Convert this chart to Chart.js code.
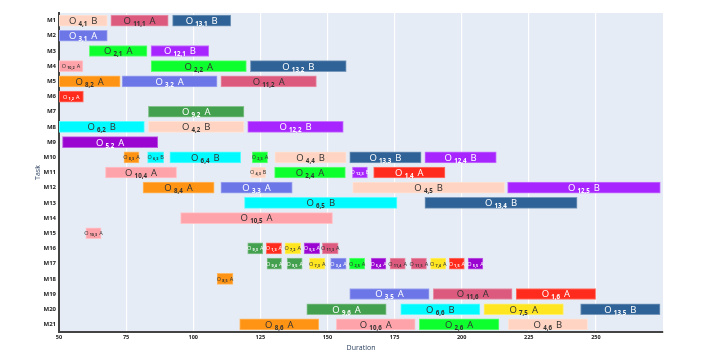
<!DOCTYPE html>
<html>
<head>
<meta charset="utf-8">
<script src="https://cdn.jsdelivr.net/npm/chart.js@4.4.1/dist/chart.umd.min.js"></script>
<style>
  html, body { margin: 0; padding: 0; background: #fff; }
  #wrap { width: 704px; height: 361px; }
</style>
</head>
<body>
<div id="wrap"><canvas id="gantt" width="704" height="361"></canvas></div>
<script>
// machines on the y axis, top to bottom
const machines = ['M1','M2','M3','M4','M5','M6','M7','M8','M9','M10','M11','M12','M13','M14','M15','M16','M17','M18','M19','M20','M21']
const xTicks = [50, 75, 100, 125, 150, 175, 200, 225, 250]

// one entry per operation: machine, start, end, job, op index
const opMachine = ['M1','M1','M1', 'M2', 'M3','M3', 'M4','M4','M4', 'M5','M5','M5', 'M6', 'M7', 'M8','M8','M8', 'M9',
  'M10','M10','M10','M10','M10','M10','M10',
  'M11','M11','M11','M11','M11',
  'M12','M12','M12','M12',
  'M13','M13', 'M14', 'M15',
  'M16','M16','M16','M16','M16',
  'M17','M17','M17','M17','M17','M17','M17','M17','M17','M17','M17',
  'M18', 'M19','M19','M19', 'M20','M20','M20','M20', 'M21','M21','M21','M21']
const opStart = [50, 69.3, 92.3, 50, 61.3, 84.3, 50, 84.3, 121.3, 50, 73.5, 110.3, 50, 83.3, 50, 83.3, 120.3, 51.3,
  74.2, 83, 91.3, 122, 130.4, 158.3, 186.3,
  67.3, 121.4, 130.3, 159.3, 167.2,
  81.3, 110.3, 159.4, 217.1,
  119.1, 186.3, 95.3, 60,
  120.3, 127.2, 134.2, 141.3, 148.1,
  127.5, 135, 143.3, 151.2, 158.2, 166.3, 173.3, 181.2, 188.4, 195.4, 202.4,
  108.9, 158.3, 189.4, 220.3, 142.3, 177.3, 208.3, 244.3, 117.3, 153.3, 184.2, 217.3]
const opEnd = [68, 90.7, 114, 68, 82.8, 105.8, 58.9, 119.8, 157, 72.8, 108.9, 145.9, 59.1, 118.9, 81.8, 118.9, 155.9, 86.8,
  79.8, 89, 117.7, 127.7, 157, 184.9, 212.9,
  93.8, 127, 156.7, 164.9, 193.8,
  107.8, 136.9, 216, 274,
  175.9, 243, 151.9, 65.7,
  125.9, 132.9, 140, 147.1, 154,
  132.9, 140.6, 149.1, 157, 163.9, 171.8, 179, 186.9, 194.1, 201, 207.9,
  114.8, 187.9, 218.8, 249.9, 171.9, 206.8, 237.9, 273.9, 146.8, 182.7, 213.9, 246.9]
const opJob = [4, 11, 13, 3, 2, 12, 10, 2, 13, 8, 3, 11, 1, 9, 6, 4, 12, 5,
  8, 6, 6, 2, 4, 13, 12,
  10, 4, 2, 12, 1,
  8, 3, 4, 12,
  6, 13, 10, 10,
  9, 1, 7, 5, 11,
  9, 9, 7, 3, 2, 5, 11, 11, 7, 1, 5,
  8, 3, 11, 1, 9, 6, 7, 13, 8, 10, 2, 4]
const opIndex = [1, 1, 1, 1, 1, 1, 2, 2, 2, 2, 2, 2, 2, 2, 2, 2, 2, 2,
  3, 3, 4, 3, 4, 3, 4,
  4, 3, 4, 3, 4,
  4, 3, 5, 5,
  5, 4, 5, 3,
  3, 3, 2, 3, 3,
  4, 5, 3, 4, 5, 4, 4, 5, 4, 5, 5,
  5, 5, 6, 6, 6, 6, 5, 5, 6, 6, 6, 6]

// colour and mode letter by job (index = job number)
const jobColors = [null, '#FF2B1C', '#0DFF2E', '#6C76E6', '#FFD4C2', '#9A05D2', '#00FAFF', '#FFE620',
  '#FF9414', '#43A04F', '#FFA3AA', '#DC5A7D', '#A726FF', '#2F6296']
const jobMode = [null, 'A', 'A', 'A', 'B', 'A', 'B', 'A', 'A', 'A', 'A', 'A', 'B', 'B']
const darkText = [null, false, true, false, true, false, true, true, true, false, true, true, false, false]

function lighten(hex, f) {
  let r = parseInt(hex.substr(1, 2), 16), g = parseInt(hex.substr(3, 2), 16), b = parseInt(hex.substr(5, 2), 16)
  r = Math.round(r + (255 - r) * f); g = Math.round(g + (255 - g) * f); b = Math.round(b + (255 - b) * f)
  return 'rgb(' + r + ',' + g + ',' + b + ')'
}

let barData = []
for (let i = 0; i < opMachine.length; i++) {
  barData.push({ x: [opStart[i], opEnd[i]], y: opMachine[i] })
}

const FONT = '"Open Sans", "DejaVu Sans", sans-serif'

const plotBackground = {
  id: 'plotBackground',
  beforeDraw(chart) {
    const a = chart.chartArea, ctx = chart.ctx
    ctx.save()
    ctx.fillStyle = '#E5ECF6'
    ctx.fillRect(a.left, a.top, a.right - a.left, a.bottom - a.top)
    ctx.restore()
  }
}

// "O i,j A" labels centred on each bar
const barLabels = {
  id: 'barLabels',
  afterDatasetsDraw(chart) {
    const ctx = chart.ctx
    const meta = chart.getDatasetMeta(0)
    ctx.save()
    ctx.textBaseline = 'alphabetic'
    ctx.textAlign = 'left'
    meta.data.forEach((bar, i) => {
      const p = bar.getProps(['x', 'base', 'y'], true)
      const w = Math.abs(p.x - p.base)
      const small = w < 30
      const big = small ? 5.5 : 9.5
      const sub = small ? 3.8 : 6.2
      const job = opJob[i]
      const subText = job + ',' + opIndex[i]
      ctx.font = big + 'px ' + FONT
      const wO = ctx.measureText('O').width
      const wL = ctx.measureText(jobMode[job]).width
      ctx.font = 'bold ' + sub + 'px ' + FONT
      const wS = ctx.measureText(subText).width
      const g1 = small ? 1.2 : 2.2, g2 = small ? 2 : 4
      const total = wO + g1 + wS + g2 + wL
      let x0 = (p.x + p.base) / 2 - total / 2
      const baseY = p.y + big * 0.36
      ctx.fillStyle = darkText[job] ? '#333' : '#fff'
      ctx.font = big + 'px ' + FONT
      ctx.fillText('O', x0, baseY)
      ctx.font = 'bold ' + sub + 'px ' + FONT
      ctx.fillText(subText, x0 + wO + g1, baseY + (small ? 1 : 2))
      ctx.font = big + 'px ' + FONT
      ctx.fillText(jobMode[job], x0 + wO + g1 + wS + g2, baseY)
    })
    ctx.restore()
  }
}

const axisTitles = {
  id: 'axisTitles',
  afterDraw(chart) {
    const ctx = chart.ctx
    ctx.save()
    ctx.fillStyle = '#2a3f5f'
    ctx.font = '7px ' + FONT
    ctx.textAlign = 'center'
    ctx.textBaseline = 'middle'
    ctx.fillText('Duration', (chart.chartArea.left + chart.chartArea.right) / 2, 348)
    ctx.translate(37.5, (chart.chartArea.top + chart.chartArea.bottom) / 2)
    ctx.rotate(-Math.PI / 2)
    ctx.fillText('Task', 0, 0)
    ctx.restore()
  }
}

new Chart(document.getElementById('gantt'), {
  type: 'bar',
  data: {
    labels: machines,
    datasets: [{
      data: barData,
      backgroundColor: opJob.map(j => jobColors[j]),
      borderColor: opJob.map(j => lighten(jobColors[j], 0.35)),
      borderWidth: 1,
      borderSkipped: false,
      barThickness: 11
    }]
  },
  options: {
    indexAxis: 'y',
    responsive: false,
    animation: false,
    layout: { padding: { top: 13, right: 41, left: 0, bottom: 0 } },
    plugins: { legend: { display: false }, tooltip: { enabled: false } },
    scales: {
      x: {
        type: 'linear',
        min: 50,
        max: 275,
        afterBuildTicks(scale) { scale.ticks = xTicks.map(v => ({ value: v })) },
        afterFit(scale) { scale.height = 29 },
        grid: { color: '#ffffff', lineWidth: 1.2, drawTicks: false },
        border: { display: true, color: '#444', width: 2 },
        ticks: { padding: 2, color: '#222', font: { family: FONT, size: 5.5, weight: 'bold' }, maxRotation: 0 }
      },
      y: {
        type: 'category',
        afterFit(scale) { scale.width = 59 },
        grid: { display: false, drawTicks: false },
        border: { display: true, color: '#444', width: 2 },
        ticks: { padding: 3, color: '#222', font: { family: FONT, size: 6, weight: 'bold' }, autoSkip: false }
      }
    }
  },
  plugins: [plotBackground, barLabels, axisTitles]
})
</script>
</body>
</html>
